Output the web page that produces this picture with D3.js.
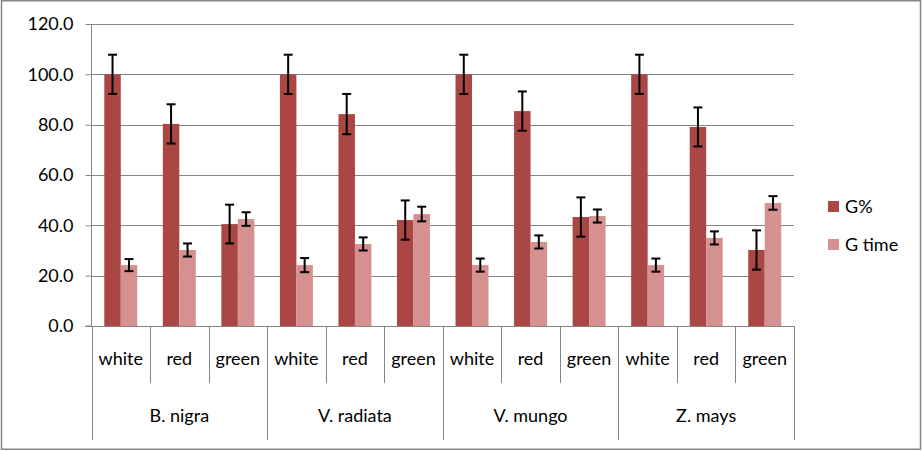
<!DOCTYPE html>
<html><head><meta charset="utf-8">
<script src="https://cdn.jsdelivr.net/npm/d3@7"></script>
<style>body{margin:0;background:#fff}svg{display:block}text{font-family:Lato,"Noto Sans",sans-serif;fill:#000}</style>
</head><body>
<script>
const groups = ["B. nigra","V. radiata","V. mungo","Z. mays"];
const lights = ["white","red","green"];
const seriesNames = ["G%","G time"];
const gPct = [100, 80.3, 40.5, 100, 84.2, 42.1, 100, 85.4, 43.3, 100, 79.1, 30.2];
const gPctErr = [7.8, 7.8, 7.7, 7.8, 8.0, 7.8, 7.8, 7.8, 7.8, 7.8, 7.75, 7.8];
const gTime = [24.2, 30.2, 42.5, 24.2, 32.6, 44.5, 24.2, 33.4, 43.7, 24.2, 35.0, 48.9];
const gTimeErr = [2.4, 2.6, 2.7, 2.8, 2.6, 2.9, 2.6, 2.6, 2.6, 2.6, 2.6, 2.7];
const yTicks = [0, 20, 40, 60, 80, 100, 120];
const colors = ["#AA4744", "#D4918F"];

const W = 923, H = 451;
const svg = d3.select("body").append("svg").attr("width", W).attr("height", H);
svg.append("rect").attr("x",1.5).attr("y",0.75).attr("width",919).attr("height",448.5)
  .attr("fill","#fff").attr("stroke","#868686").attr("stroke-width",1.5);

const pL = 91.5, pR = 794, pT = 24, pB = 326;
const cats = [];
groups.forEach(g => lights.forEach(l => cats.push({g, l})));
const x0 = d3.scaleBand().domain(d3.range(cats.length)).range([pL, pR]).paddingInner(0).paddingOuter(0);
const x1 = d3.scaleBand().domain(seriesNames).range([0, x0.bandwidth()]).paddingInner(0).paddingOuter(0.775);
const y = d3.scaleLinear().domain([0, 120]).range([pB, pT]);

// gridlines
svg.append("g").selectAll("line").data(yTicks.filter(t => t > 0)).join("line")
  .attr("x1", pL).attr("x2", pR).attr("y1", d => Math.round(y(d)) + 0.5).attr("y2", d => Math.round(y(d)) + 0.5)
  .attr("stroke", "#868686").attr("stroke-width", 1);

// y axis
const yAxis = d3.axisLeft(y).tickValues(yTicks).tickFormat(d3.format(".1f")).tickSize(6).tickPadding(12);
const ya = svg.append("g").attr("transform", `translate(${pL},0)`).call(yAxis);
ya.select(".domain").attr("stroke", "#868686").attr("d", `M-6,${pB}H0V${pT}`);
ya.selectAll(".tick line").attr("stroke", "#868686");
ya.selectAll(".tick text").attr("font-size", 18).attr("font-family", "Lato").attr("fill", "#000");

// bars
const rows = [];
cats.forEach((c, i) => {
  rows.push({i, s: seriesNames[0], v: gPct[i], e: gPctErr[i]});
  rows.push({i, s: seriesNames[1], v: gTime[i], e: gTimeErr[i]});
});
svg.append("g").selectAll("rect").data(rows).join("rect")
  .attr("x", d => x0(d.i) + x1(d.s)).attr("width", x1.bandwidth())
  .attr("y", d => y(d.v)).attr("height", d => y(0) - y(d.v))
  .attr("fill", d => colors[seriesNames.indexOf(d.s)]);

// error bars
const eb = svg.append("g").selectAll("g").data(rows).join("g")
  .attr("transform", d => `translate(${x0(d.i) + x1(d.s) + x1.bandwidth()/2},0)`);
eb.append("line").attr("x1",0).attr("x2",0).attr("y1", d => y(d.v + d.e)).attr("y2", d => y(d.v - d.e))
  .attr("stroke","#000").attr("stroke-width",2);
eb.append("line").attr("x1",-4.5).attr("x2",4.5).attr("y1", d => y(d.v + d.e)).attr("y2", d => y(d.v + d.e))
  .attr("stroke","#000").attr("stroke-width",2);
eb.append("line").attr("x1",-4.5).attr("x2",4.5).attr("y1", d => y(d.v - d.e)).attr("y2", d => y(d.v - d.e))
  .attr("stroke","#000").attr("stroke-width",2);

// x axis baseline
svg.append("line").attr("x1", pL - 6).attr("x2", pR).attr("y1", pB + 0.5).attr("y2", pB + 0.5)
  .attr("stroke", "#868686");

// category separators
const seps = d3.range(cats.length + 1);
svg.append("g").selectAll("line").data(seps).join("line")
  .attr("x1", i => i < cats.length ? Math.round(x0(i)) + 0.5 : Math.round(pR) + 0.5)
  .attr("x2", i => i < cats.length ? Math.round(x0(i)) + 0.5 : Math.round(pR) + 0.5)
  .attr("y1", pB).attr("y2", i => i % 3 === 0 ? 440 : 383)
  .attr("stroke", "#868686");

// category labels
svg.append("g").selectAll("text").data(cats).join("text")
  .attr("x", (d, i) => x0(i) + x0.bandwidth()/2).attr("y", 365)
  .attr("text-anchor","middle").attr("font-size", 18).text(d => d.l);

// group labels
svg.append("g").selectAll("text").data(groups).join("text")
  .attr("x", (d, gi) => x0(gi*3) + x0.bandwidth()*1.5).attr("y", 422)
  .attr("text-anchor","middle").attr("font-size", 18).text(d => d);

// legend
const lg = svg.append("g").selectAll("g").data(seriesNames).join("g")
  .attr("transform", (d, i) => `translate(828,${201 + i*38})`);
lg.append("rect").attr("width", 11).attr("height", 11).attr("fill", (d, i) => colors[i]);
lg.append("text").attr("x", 17).attr("y", 11.5).attr("font-size", 18).text(d => d);
</script>
</body></html>
